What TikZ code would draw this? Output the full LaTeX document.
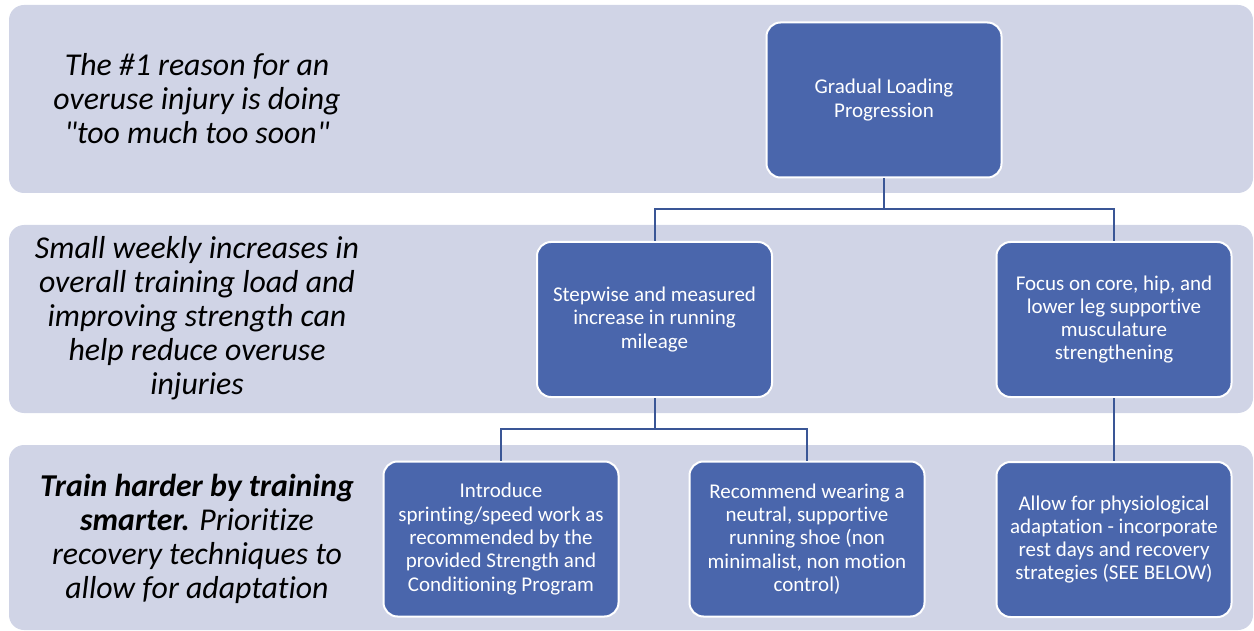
\documentclass[tikz,border=0pt]{standalone}
\usepackage{fontspec}
\setmainfont{Carlito}[Ligatures={NoCommon}]
\definecolor{bandfill}{RGB}{208,212,230}
\definecolor{boxfill}{RGB}{74,102,172}
\definecolor{linkcol}{RGB}{58,86,150}
\begin{document}
\begin{tikzpicture}[x=1pt,y=-1pt,
  band/.style={fill=bandfill,draw=none,rounded corners=15pt},
  boxnode/.style={fill=boxfill,draw=white,line width=2pt,rounded corners=14pt,
    minimum width=235pt,minimum height=155pt,text=white,align=center,
    font=\fontsize{21}{23.3}\selectfont,inner sep=4pt},
  sidetext/.style={align=center,font=\fontsize{31.8}{34}\selectfont\itshape},
  link/.style={draw=linkcol,line width=2pt}]
\useasboundingbox (0,0) rectangle (1254,631);
% bands
\path[band] (9,5) rectangle (1253,193);
\path[band] (9,225) rectangle (1253,413);
\path[band] (9,445) rectangle (1253,630);
% side texts
\node[sidetext] (t1) at (197,99) {The \#1 reason for an\\overuse injury is doing\\\textquotedbl too much too soon\textquotedbl};
\node[sidetext] (t2) at (197,318) {Small weekly increases in\\overall training load and\\improving strength can\\help reduce overuse\\injuries};
\node[sidetext] (t3) at (197,539) {\textbf{Train harder by training}\\\textbf{smarter.} Prioritize\\recovery techniques to\\allow for adaptation};
% boxes
\node[boxnode] (grad) at (884,100) {Gradual Loading\\Progression};
\node[boxnode] (step) at (654.5,319.5) {Stepwise and measured\\increase in running\\mileage};
\node[boxnode] (focus) at (1114,319.5) {Focus on core, hip, and\\lower leg supportive\\musculature\\strengthening};
\node[boxnode] (intro) at (501,539) {Introduce\\sprinting/speed work as\\recommended by the\\provided Strength and\\Conditioning Program};
\node[boxnode] (shoe) at (807,539) {Recommend wearing a\\neutral, supportive\\running shoe (non\\minimalist, non motion\\control)};
\node[boxnode] (allow) at (1114,539.5) {Allow for physiological\\adaptation - incorporate\\rest days and recovery\\strategies (SEE BELOW)};
% connectors
\coordinate (bus1) at (884,209);
\coordinate (bus2) at (501,429);
\draw[link] (grad.south) -- (bus1);
\draw[link] (step.north) |- (bus1) -| (focus.north);
\draw[link] (step.south) -- (step.south |- bus2);
\draw[link] (intro.north) |- (step.south |- bus2) -| (shoe.north);
\draw[link] (focus.south) -- (allow.north);
\end{tikzpicture}
\end{document}
